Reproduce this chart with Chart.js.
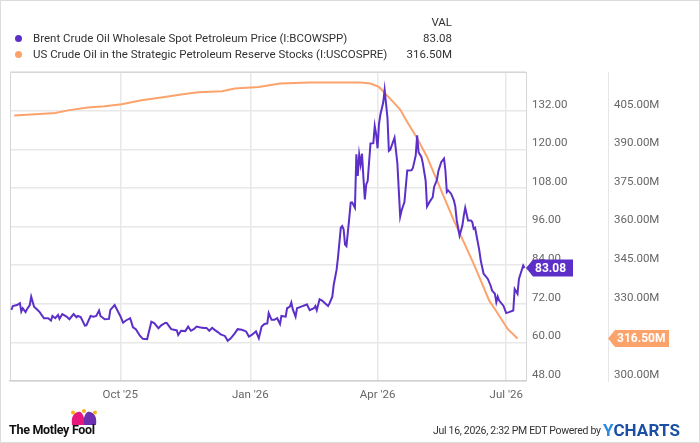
<!DOCTYPE html>
<html>
<head>
<meta charset="utf-8">
<script src="https://cdn.jsdelivr.net/npm/chart.js@4.4.1/dist/chart.umd.min.js"></script>
<style>
  body { margin: 0; background: #fff; font-family: Roboto, "Noto Sans", sans-serif; }
  #wrap { position: relative; width: 700px; height: 443px; overflow: hidden; }
  #chart { position: absolute; left: 0; top: 0; }
  #frame { position: absolute; left: 0; top: 0; width: 700px; height: 443px; box-sizing: border-box; border: 1px solid #dcdcdc; pointer-events: none; }
  .lg { position: absolute; font-size: 11.5px; color: #333; white-space: nowrap; line-height: 14px; }
  .dot { position: absolute; width: 7px; height: 7px; border-radius: 50%; }
  .val { position: absolute; font-size: 11.5px; color: #333; text-align: right; width: 80px; line-height: 14px; }
  #fool { position: absolute; left: 9px; top: 422px; font-size: 12.5px; font-weight: bold; color: #111; letter-spacing: -0.3px; }
  #stamp { position: absolute; left: 433px; top: 424px; font-size: 10.5px; color: #333; letter-spacing: -0.3px; white-space: nowrap; }
  #ych { position: absolute; left: 603px; top: 420px; font-size: 17px; font-weight: bold; color: #1a4fa3; letter-spacing: 0.1px; }
  #ych span { color: #2a8be0; }
</style>
</head>
<body>
<div id="wrap">
  <canvas id="chart" width="700" height="443"></canvas>
  <div class="val" style="left:372px; top:15px;">VAL</div>
  <div class="dot" style="left:15px; top:35px; background:#5c30c8;"></div>
  <div class="lg" style="left:33px; top:31px;">Brent Crude Oil Wholesale Spot Petroleum Price (I:BCOWSPP)</div>
  <div class="val" id="v1" style="left:372px; top:31px;"></div>
  <div class="dot" style="left:15px; top:51px; background:#fca36c;"></div>
  <div class="lg" style="left:33px; top:47px;">US Crude Oil in the Strategic Petroleum Reserve Stocks (I:USCOSPRE)</div>
  <div class="val" id="v2" style="left:372px; top:47px;"></div>
  <svg style="position:absolute; left:69px; top:408px;" width="30" height="18" viewBox="0 0 30 18">
    <path d="M3 17 C2 10 4 5 9 4 C12 3 14 6 15 10 L15 17 Z" fill="#e8177d"/>
    <path d="M15 17 L15 10 C16 6 18 3 21 4 C26 5 28 10 27 17 Z" fill="#6b2fb0"/>
    <circle cx="4" cy="4.5" r="2" fill="#f6b318"/>
    <circle cx="26" cy="4.5" r="2" fill="#f6b318"/>
    <circle cx="15" cy="3" r="2" fill="#f6b318"/>
  </svg>
  <div id="fool">The Motley Fool</div>
  <div id="stamp">Jul 16, 2026, 2:32 PM EDT Powered by</div>
  <div id="ych"><span>Y</span>CHARTS</div>
  <div id="frame"></div>
</div>
<script>
// days counted from 15 Jul 2025
const brentDays = [1,2,5,7,8,9,11,12,14,15,17,19,21,24,27,29,30,32,34,35,37,40,42,45,47,48,50,53,54,57,59,61,63,64,67,70,71,74,76,78,80,82,85,87,89,92,94,97,100,102,105,107,110,111,114,116,118,119,121,124,126,128,130,132,134,137,139,141,143,145,147,149,152,154,156,159,161,164,167,169,171,174,176,178,180,182,183,185,187,189,191,192,195,196,198,199,200,202,203,206,209,210,212,215,216,217,219,221,223,225,226,228,229,231,232,234,235,236,237,238,240,241,242,244,245,246,247,248,249,250,251,252,253,255,257,258,259,260,261,262,264,265,267,268,269,272,274,276,277,279,281,284,285,287,288,289,291,292,294,295,297,299,300,302,303,305,307,308,309,310,312,314,315,316,318,320,321,322,324,326,327,328,329,330,332,333,335,336,338,340,341,343,344,345,346,349,351,353,356,357,359,360,363,364];
const brentPrice = [70.1,71.3,71.6,72.2,69.6,70.6,69.4,70.3,71.6,74.2,71.1,70.3,69.4,67.5,67.5,66.8,68.2,67.5,68.5,67.3,68.8,68.0,67.2,68.8,67.8,68.2,67.9,65.2,65.3,68.2,68.0,68.2,69.9,68.2,67.2,67.3,70.1,71.6,69.9,68.2,66.1,66.8,67.5,64.7,64.1,62.0,61.1,61.0,66.4,66.0,64.4,65.3,66.1,66.0,64.1,63.9,63.7,62.3,63.6,63.5,64.9,63.6,64.1,64.9,64.7,64.5,64.5,63.6,64.5,63.8,63.2,62.5,62.0,60.5,61.2,62.8,64.1,63.9,63.4,61.8,62.3,63.4,61.3,64.9,65.7,65.9,69.1,67.0,67.0,67.5,65.7,68.2,68.0,70.6,71.1,72.4,70.3,68.0,70.6,71.1,71.6,71.8,70.0,70.6,71.3,70.0,73.4,72.9,72.1,71.3,72.1,74.2,77.9,82.5,86.3,95.6,96.1,95.1,90.4,89.9,98.7,103.4,103.5,101.8,118.4,111.7,118.4,115.3,118.6,111.2,104.4,109.1,110.1,121.8,121.9,127.2,124.6,120.3,127.8,130.8,134.5,138.5,129.8,119.5,119.9,123.6,115.7,99.1,101.0,103.6,113.4,113.5,114.2,118.1,124.3,119.1,117.6,115.7,110.3,102.2,103.8,105.1,108.3,110.5,113.2,116.0,117.1,113.4,106.7,107.2,106.2,104.1,102.2,97.9,93.2,96.3,99.4,101.8,97.9,97.9,97.4,95.3,95.6,93.2,88.5,85.4,81.3,80.8,79.7,77.6,76.1,75.1,72.5,74.2,73.0,71.4,69.1,69.4,69.9,76.6,75.1,79.7,83.9,83.08];

const sprDays = [3,18,32,41,55,67,79,93,107,121,133,150,159,176,191,212,248,255,261,265,271,276,281,286,290,295,300,307,314,321,328,334,339,344,352,359];
const sprStocks = [403.1,403.6,404.1,405.1,406.2,406.7,407.5,409.0,410.1,411.3,412.1,412.5,413.6,414.2,415.5,415.9,415.9,415.5,414.2,411.9,408.4,405.4,400.6,396.1,392.2,387.0,380.5,371.4,362.3,353.9,345.5,337.7,331.2,327.1,320.2,316.5];

const monthTicks = [78, 170, 260, 351];
const monthLabels = ["Oct '25", "Jan '26", "Apr '26", "Jul '26"];

const PURPLE = '#5c30c8';
const ORANGE = '#fca36c';
const lastBrent = brentPrice[brentPrice.length - 1];
const lastSpr = sprStocks[sprStocks.length - 1];

document.getElementById('v1').textContent = lastBrent.toFixed(2);
document.getElementById('v2').textContent = lastSpr.toFixed(2) + 'M';

const tickFont = { family: 'Roboto', size: 11.5 };

// box round the plot + the last value tags on the axes
const extras = {
  id: 'extras',
  beforeDatasetsDraw(chart) {
    const a = chart.chartArea, c = chart.ctx;
    c.save();
    c.strokeStyle = '#d6d6d6';
    c.lineWidth = 1;
    c.beginPath();
    c.moveTo(a.left + 0.5, a.bottom);
    c.lineTo(a.left + 0.5, a.top + 0.5);
    c.lineTo(a.right, a.top + 0.5);
    c.stroke();
    c.restore();
  },
  afterDraw(chart) {
    const c = chart.ctx;
    function tag(x, y, w, color, text) {
      c.save();
      c.fillStyle = color;
      c.beginPath();
      c.moveTo(x, y);
      c.lineTo(x + 7, y - 8.5);
      c.lineTo(x + w, y - 8.5);
      c.lineTo(x + w, y + 8.5);
      c.lineTo(x + 7, y + 8.5);
      c.closePath();
      c.fill();
      c.fillStyle = '#fff';
      c.font = 'bold 12px Roboto';
      c.textBaseline = 'middle';
      c.fillText(text, x + 9, y + 0.5);
      c.restore();
    }
    const y1 = chart.scales.y, y2 = chart.scales.y2;
    tag(y1.left, y1.getPixelForValue(lastBrent), 47, PURPLE, lastBrent.toFixed(2));
    tag(y2.left, y2.getPixelForValue(lastSpr), 61, ORANGE, lastSpr.toFixed(2) + 'M');
  }
};

new Chart(document.getElementById('chart'), {
  type: 'line',
  data: {
    datasets: [{
      label: 'Brent Crude Oil Wholesale Spot Petroleum Price (I:BCOWSPP)',
      data: brentDays.map((d, i) => ({ x: d, y: brentPrice[i] })),
      borderColor: PURPLE,
      borderWidth: 2,
      pointRadius: 0,
      tension: 0,
      yAxisID: 'y'
    }, {
      label: 'US Crude Oil in the Strategic Petroleum Reserve Stocks (I:USCOSPRE)',
      data: sprDays.map((d, i) => ({ x: d, y: sprStocks[i] })),
      borderColor: ORANGE,
      borderWidth: 2,
      pointRadius: 0,
      tension: 0,
      yAxisID: 'y2'
    }]
  },
  options: {
    responsive: false,
    animation: false,
    layout: { padding: { left: 10, top: 72, right: 0, bottom: 32 } },
    plugins: { legend: { display: false }, tooltip: { enabled: false } },
    scales: {
      x: {
        type: 'linear',
        min: 0,
        max: 365,
        afterBuildTicks: axis => { axis.ticks = monthTicks.map(v => ({ value: v })); },
        afterFit: axis => { axis.height = 30; },
        ticks: {
          autoSkip: false,
          maxRotation: 0,
          padding: 7,
          color: '#666',
          font: tickFont,
          callback: v => monthLabels[monthTicks.indexOf(v)]
        },
        grid: { color: '#e8e8e8', lineWidth: 1.5, drawTicks: false },
        border: { color: '#cfcfcf', width: 1.5 }
      },
      y: {
        position: 'right',
        min: 48,
        max: 144,
        afterFit: axis => { axis.width = 82; },
        ticks: {
          stepSize: 12,
          padding: 6,
          labelOffset: -6,
          color: '#666',
          font: tickFont,
          callback: v => v === 144 ? '' : v.toFixed(2)
        },
        grid: { color: '#e8e8e8', lineWidth: 1.5, drawTicks: false },
        border: { color: '#d6d6d6', width: 1 }
      },
      y2: {
        position: 'right',
        min: 300,
        max: 420,
        afterFit: axis => { axis.width = 92; },
        ticks: {
          stepSize: 15,
          padding: 6,
          labelOffset: -6,
          color: '#666',
          font: tickFont,
          callback: v => v === 420 ? '' : v.toFixed(2) + 'M'
        },
        grid: { display: false, drawTicks: false },
        border: { color: '#e6e6e6', width: 1 }
      }
    }
  },
  plugins: [extras]
});
</script>
</body>
</html>
